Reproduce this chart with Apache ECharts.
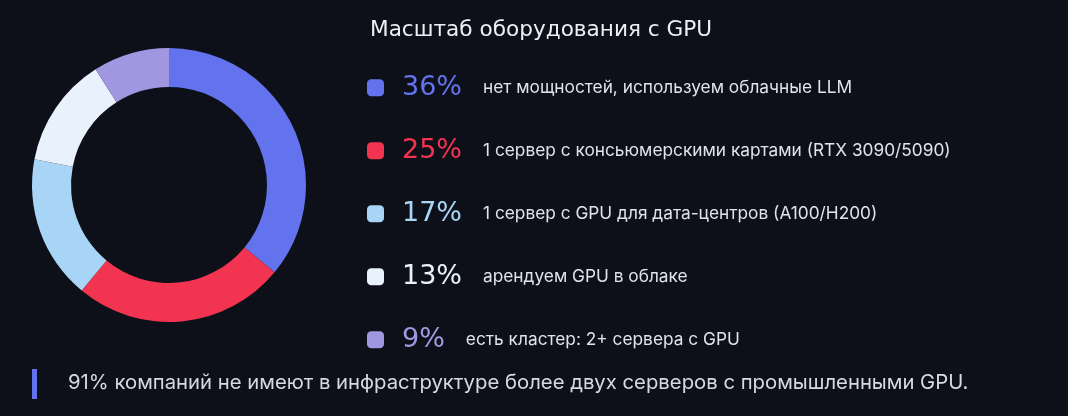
<!DOCTYPE html>
<html>
<head>
<meta charset="utf-8">
<style>
html,body{margin:0;padding:0;background:#0d1019;}
#chart{width:1068px;height:416px;}
</style>
<script src="https://cdn.jsdelivr.net/npm/echarts@6/dist/echarts.min.js"></script>
</head>
<body>
<div id="chart"></div>
<script>
const titleText = 'Масштаб оборудования с GPU';
const categories = [
  'нет мощностей, используем облачные LLM',
  '1 сервер с консьюмерскими картами (RTX 3090/5090)',
  '1 сервер с GPU для дата-центров (A100/H200)',
  'арендуем GPU в облаке',
  'есть кластер: 2+ сервера с GPU'
];
const values = [36, 25, 17, 13, 9];
const colors = ['#6373EE', '#F23451', '#A8D4F6', '#E9F1FC', '#A197E0'];
const noteText = '91% компаний не имеют в инфраструктуре более двух серверов с промышленными GPU.';

const chart = echarts.init(document.getElementById('chart'), null, {renderer: 'canvas'});

const rich = {
  t: {fontFamily: 'Inter, "Noto Sans", sans-serif', fontSize: 17.3, color: '#dfe3ea', lineHeight: 24}
};
values.forEach((v, i) => {
  rich['p' + i] = {
    fontFamily: '"DejaVu Sans", sans-serif', fontSize: 27, color: colors[i],
    lineHeight: 24, padding: [0, 21, 0, 13]
  };
});

const option = {
  backgroundColor: '#0d1019',
  animation: false,
  color: colors,
  title: [
    {
      text: titleText, left: 370, top: 19, padding: 0,
      textStyle: {fontFamily: '"DejaVu Sans", sans-serif', fontSize: 21.6, fontWeight: 'normal', color: '#eceff4'}
    },
    {
      text: noteText, left: 68, top: 373, padding: 0,
      textStyle: {fontFamily: 'Inter, "Noto Sans", sans-serif', fontSize: 20.3, fontWeight: 'normal', color: '#d6dae1'}
    }
  ],
  graphic: [
    {type: 'rect', shape: {x: 32, y: 369, width: 5, height: 30}, style: {fill: '#6373EE'}}
  ],
  legend: {
    orient: 'vertical', left: 367, top: 74.3, padding: 0,
    itemWidth: 17, itemHeight: 17, itemGap: 36,
    icon: 'roundRect', selectedMode: false,
    data: categories,
    formatter: function (name) {
      const i = categories.indexOf(name);
      return '{p' + i + '|' + values[i] + '%}{t|' + name + '}';
    },
    textStyle: {rich: rich}
  },
  series: [{
    type: 'pie',
    center: [169, 185],
    radius: [98, 137],
    startAngle: 90,
    clockwise: true,
    label: {show: false},
    labelLine: {show: false},
    emphasis: {disabled: true},
    itemStyle: {borderWidth: 0},
    data: categories.map((c, i) => ({name: c, value: values[i], itemStyle: {color: colors[i]}}))
  }]
};
chart.setOption(option);
</script>
</body>
</html>
